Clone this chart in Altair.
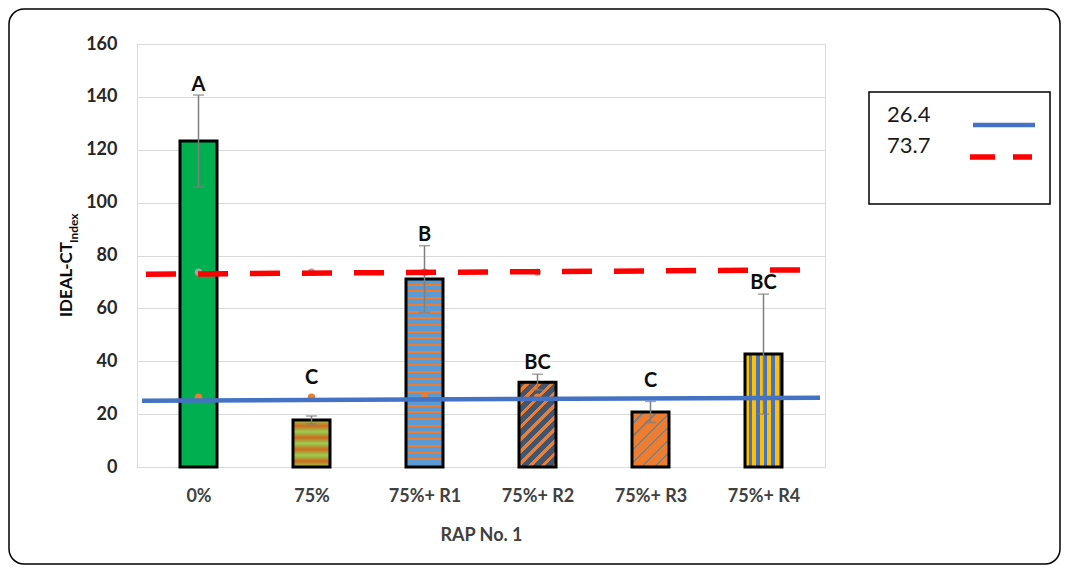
import altair as alt
import pandas as pd

# ---------------- data ----------------
categories = ["0%", "75%", "75%+ R1", "75%+ R2", "75%+ R3", "75%+ R4"]
means = [123.3, 17.8, 71.1, 32.1, 20.8, 42.7]
sds = [17.4, 1.5, 12.6, 3.0, 4.0, 22.7]
letters = ["A", "C", "B", "BC", "C", "BC"]
letter_y = [144.5, 33.7, 87.7, 39.3, 32.5, 69.6]
limit_low = 26.4
limit_high = 73.7
n_limit_points = 4
blue_ends = [25.1, 26.2]
red_ends = [72.9, 74.6]
line_x_ends = [-0.5, 5.5]
legend_labels = ["26.4", "73.7"]
y_ticks = [0, 20, 40, 60, 80, 100, 120, 140, 160]

# ---------------- layout / style ----------------
PW, PH = 688, 423
YMAX = 160
BAR_W = 37
FONT = "Lato"
TOTAL_W, TOTAL_H = 1053, 557
PAD_L, PAD_T = 129, 36

idx = list(range(len(categories)))
bars = pd.DataFrame({"i": idx, "cat": categories, "mean": means,
                     "lo": [m - s for m, s in zip(means, sds)],
                     "hi": [m + s for m, s in zip(means, sds)],
                     "letter": letters, "ly": letter_y})

xscale = alt.Scale(domain=[-0.5, 5.5], nice=False, zero=False)
yscale = alt.Scale(domain=[0, YMAX], nice=False)
label_expr = "[" + ",".join("'%s'" % c for c in categories) + "][datum.value]"

xenc = alt.X("i:Q", scale=xscale,
             axis=alt.Axis(values=idx, labelExpr=label_expr, title="RAP No. 1",
                           grid=False, ticks=False, tickSize=0, domain=False,
                           labelFont=FONT, labelFontSize=18, labelFontWeight="bold",
                           labelColor="#404040", labelPadding=20,
                           titleFont=FONT, titleFontSize=18, titleFontWeight="bold",
                           titleColor="#404040", titleY=68, titleBaseline="middle"))
yenc_axis = alt.Axis(values=y_ticks, title=None, grid=True, gridColor="#D9D9D9",
                     ticks=False, tickSize=0, domain=False, labelFont=FONT,
                     labelFontSize=18, labelFontWeight="bold", labelColor="#262626",
                     labelPadding=20)


def stripes(c1, c2, n, frac, x1, y1, x2, y2):
    stops = []
    for k in range(n):
        a = k / n
        b = (k + frac) / n
        c = (k + 1) / n
        stops += [{"offset": a, "color": c1}, {"offset": b, "color": c1},
                  {"offset": b, "color": c2}, {"offset": c, "color": c2}]
    return {"gradient": "linear", "x1": x1, "y1": y1, "x2": x2, "y2": y2, "stops": stops}


def soft(c1, c2, n, x1, y1, x2, y2):
    stops = []
    for k in range(n):
        stops += [{"offset": k / n, "color": c1}, {"offset": (k + 0.5) / n, "color": c2}]
    stops.append({"offset": 1.0, "color": c1})
    return {"gradient": "linear", "x1": x1, "y1": y1, "x2": x2, "y2": y2, "stops": stops}


def diag(c1, c2, period, frac, value):
    h = value * PH / YMAX
    r = BAR_W / h
    a = (r + 1) / (r * r + 1)
    n = max(1, round((BAR_W + h) / 1.4142 / period))
    return stripes(c1, c2, n, frac, 0, 0, a * r, a)


fills = [
    "#00B050",
    soft("#92D050", "#D2691E", 4, 0, 0, 0, 1),
    stripes("#5B9BD5", "#ED7D31", max(1, round(means[2] * PH / YMAX / 6.7)), 0.7, 0, 0, 0, 1),
    diag("#44546A", "#ED7D31", 9, 0.62, means[3]),
    diag("#ED7D31", "#808080", 9, 0.82, means[4]),
    stripes("#FFC000", "#4472C4", 5, 0.55, 0, 0, 1, 0),
]

layers = []

# outer rounded frame
one = pd.DataFrame({"k": [0]})
layers.append(alt.Chart(one).mark_rect(fillOpacity=0, stroke="#000", strokeWidth=1.5,
                                       cornerRadius=15)
              .encode(x=alt.value(-PAD_L + 1), x2=alt.value(TOTAL_W - PAD_L - 1),
                      y=alt.value(-PAD_T + 1), y2=alt.value(TOTAL_H - PAD_T - 1)))

# bars
for i in idx:
    base = alt.Chart(bars).transform_filter(alt.datum.i == i)
    layers.append(base.mark_bar(width=BAR_W, orient="vertical", fill=fills[i],
                                stroke="#000", strokeWidth=3)
                  .encode(x=xenc, y=alt.Y("mean:Q", scale=yscale, axis=yenc_axis)))

# limit points
pts = pd.DataFrame({"i": idx[:n_limit_points] * 2,
                    "v": [limit_low] * n_limit_points + [limit_high] * n_limit_points,
                    "s": ["low"] * n_limit_points + ["high"] * n_limit_points})
layers.append(alt.Chart(pts).mark_circle(size=55, opacity=1)
              .encode(x=alt.X("i:Q", scale=xscale), y=alt.Y("v:Q", scale=yscale),
                      color=alt.Color("s:N", scale=alt.Scale(domain=["low", "high"],
                                                             range=["#ED7D31", "#A5A5A5"]),
                                      legend=None)))

# error bars
eb = alt.Chart(bars)
layers.append(eb.mark_rule(color="#7F7F7F", strokeWidth=1.5)
              .encode(x=alt.X("i:Q", scale=xscale), y=alt.Y("lo:Q", scale=yscale), y2="hi:Q"))
for f in ["lo", "hi"]:
    layers.append(eb.mark_tick(orient="horizontal", size=11, thickness=1.5, color="#7F7F7F")
                  .encode(x=alt.X("i:Q", scale=xscale), y=alt.Y(f + ":Q", scale=yscale)))

# threshold lines
lines = pd.DataFrame({"x": line_x_ends * 2, "y": blue_ends + red_ends,
                      "s": ["low", "low", "high", "high"]})
layers.append(alt.Chart(lines).transform_filter(alt.datum.s == "low")
              .mark_line(color="#4472C4", strokeWidth=4.5)
              .encode(x=alt.X("x:Q", scale=xscale), y=alt.Y("y:Q", scale=yscale)))
layers.append(alt.Chart(lines).transform_filter(alt.datum.s == "high")
              .mark_line(color="#FF0000", strokeWidth=5.5, strokeDash=[30, 22],
                         strokeDashOffset=48)
              .encode(x=alt.X("x:Q", scale=xscale), y=alt.Y("y:Q", scale=yscale)))

# significance letters
layers.append(alt.Chart(bars).mark_text(font=FONT, fontSize=20, fontWeight="bold",
                                        color="#0D0D0D", baseline="middle")
              .encode(x=alt.X("i:Q", scale=xscale), y=alt.Y("ly:Q", scale=yscale),
                      text="letter:N"))

# y-axis title with subscript
layers.append(alt.Chart(pd.DataFrame({"t": ["IDEAL-CT"]}))
              .mark_text(font=FONT, fontSize=17, fontWeight="bold", color="#0D0D0D",
                         angle=270, align="left", baseline="middle")
              .encode(x=alt.value(-70), y=alt.value(273), text="t:N"))
layers.append(alt.Chart(pd.DataFrame({"t": ["Index"]}))
              .mark_text(font=FONT, fontSize=12, fontWeight="bold", color="#0D0D0D",
                         angle=270, align="left", baseline="middle")
              .encode(x=alt.value(-63), y=alt.value(199), text="t:N"))

# manual legend
layers.append(alt.Chart(one).mark_rect(fillOpacity=0, stroke="#000", strokeWidth=1.5)
              .encode(x=alt.value(732), x2=alt.value(913), y=alt.value(48), y2=alt.value(160)))
for k, lab in enumerate(legend_labels):
    layers.append(alt.Chart(pd.DataFrame({"t": [lab]}))
                  .mark_text(font=FONT, fontSize=22, color="#1A1A1A",
                             align="left", baseline="middle")
                  .encode(x=alt.value(750), y=alt.value(71 + 31 * k), text="t:N"))
layers.append(alt.Chart(one).mark_rule(color="#4472C4", strokeWidth=4.5)
              .encode(x=alt.value(836), x2=alt.value(898), y=alt.value(81)))
layers.append(alt.Chart(one).mark_rule(color="#FF0000", strokeWidth=5.5, strokeDash=[25, 18])
              .encode(x=alt.value(833), x2=alt.value(895), y=alt.value(113)))

chart = alt.layer(*layers).properties(
    width=PW, height=PH,
    autosize=alt.AutoSizeParams(type="none"),
    padding={"left": PAD_L, "top": PAD_T, "right": TOTAL_W - PAD_L - PW,
             "bottom": TOTAL_H - PAD_T - PH},
).configure_view(stroke="#000", strokeWidth=1).configure(background="white")

chart.save("out.html", embed_options={"renderer": "svg", "actions": False})
